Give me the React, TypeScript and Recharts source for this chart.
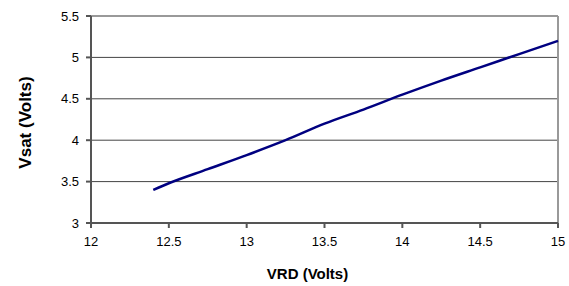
import React from 'react';
import { LineChart, Line, XAxis, YAxis, CartesianGrid, ReferenceLine } from 'recharts';

const vrd = [12.4, 12.5, 12.75, 13, 13.25, 13.5, 13.75, 14, 14.25, 14.5, 14.75, 15];
const vsat = [3.4, 3.48, 3.65, 3.82, 4.0, 4.2, 4.37, 4.55, 4.72, 4.88, 5.04, 5.2];
const xTicks = [12, 12.5, 13, 13.5, 14, 14.5, 15];
const yTicks = [3, 3.5, 4, 4.5, 5, 5.5];

const data = vrd.map((x, i) => ({ vrd: x, vsat: vsat[i] }));

const font = '"Liberation Sans", Arial, sans-serif';

const YLabel: React.FC<any> = ({ viewBox }) => {
  const cy = viewBox.y + viewBox.height / 2 + 3;
  const cx = 31;
  return (
    <text
      x={cx}
      y={cy}
      transform={`rotate(-90, ${cx}, ${cy})`}
      textAnchor="middle"
      fontFamily={font}
      fontSize={17}
      fontWeight="bold"
      fill="#000"
    >
      Vsat (Volts)
    </text>
  );
};

const XLabel: React.FC<any> = ({ viewBox }) => {
  const cx = viewBox.x + viewBox.width / 2 - 17;
  return (
    <text x={cx} y={279} textAnchor="middle" fontFamily={font} fontSize={15} fontWeight="bold" fill="#000">
      VRD (Volts)
    </text>
  );
};

const App: React.FC = () => {
  return (
    <div style={{ position: 'absolute', left: 0, top: 0, background: '#fff' }}>
      <LineChart width={569} height={286} data={data} margin={{ top: 16, right: 11, left: 0, bottom: 0 }}>
        <CartesianGrid horizontal vertical={false} stroke="#444" />
        <XAxis
          dataKey="vrd"
          type="number"
          domain={[12, 15]}
          ticks={xTicks}
          height={63}
          tickSize={5}
          tickMargin={9}
          stroke="#555"
          strokeWidth={2}
          tick={{ fill: '#000', fontSize: 13, fontFamily: font }}
          label={<XLabel />}
        />
        <YAxis
          type="number"
          domain={[3, 5.5]}
          ticks={yTicks}
          width={91}
          tickSize={5}
          tickMargin={7}
          stroke="#555"
          strokeWidth={2}
          tick={{ fill: '#000', fontSize: 13, fontFamily: font }}
          label={<YLabel />}
        />
        <ReferenceLine y={5.5} stroke="#999" strokeWidth={2} />
        <ReferenceLine x={15} stroke="#999" strokeWidth={2} />
        <Line
          type="monotone"
          dataKey="vsat"
          stroke="#000080"
          strokeWidth={2.5}
          dot={false}
          isAnimationActive={false}
        />
      </LineChart>
    </div>
  );
};

export default App;
